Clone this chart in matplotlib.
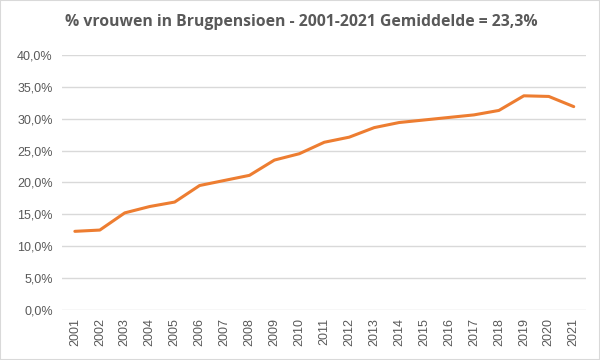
import matplotlib.pyplot as plt
from matplotlib.patches import Rectangle
from matplotlib.ticker import FuncFormatter

years = [str(y) for y in range(2001, 2022)]
pct_vrouwen = [12.3, 12.5, 15.2, 16.2, 16.9, 19.5, 20.3, 21.1, 23.5, 24.5, 26.3,
               27.1, 28.6, 29.4, 29.8, 30.2, 30.6, 31.3, 33.6, 33.5, 31.9]
y_ticks = [0, 5, 10, 15, 20, 25, 30, 35, 40]
title = "% vrouwen in Brugpensioen - 2001-2021 Gemiddelde = 23,3%"

txt = "#595959"
fig = plt.figure(figsize=(6, 3.6), dpi=100)
ax = fig.add_axes([0.104, 0.140, 0.873, 0.707])

x = list(range(len(years)))
ax.plot(x, pct_vrouwen, color="#ED7D31", lw=2.2, solid_capstyle="round")

ax.set_xlim(-0.5, len(years) - 0.5)
ax.set_ylim(0, 40)
ax.set_yticks(y_ticks)
ax.yaxis.set_major_formatter(FuncFormatter(lambda v, p: f"{v:.1f}%".replace(".", ",")))
ax.set_xticks(x)
ax.set_xticklabels(years, rotation=90)
ax.grid(axis="y", color="#D9D9D9", lw=1)
ax.set_axisbelow(True)
for s in ax.spines.values():
    s.set_visible(False)
ax.tick_params(length=0, colors=txt, labelsize=9)
ax.tick_params(axis="y", pad=7)
ax.tick_params(axis="x", pad=6)
for lab in ax.get_xticklabels() + ax.get_yticklabels():
    lab.set_fontfamily("Liberation Sans")

fig.text(0.503, 0.938, title, ha="center", va="center", fontsize=11.3,
         fontweight="bold", color=txt, family="Open Sans")
fig.patches.append(Rectangle((0, 0), 1, 1, transform=fig.transFigure,
                             fill=False, edgecolor="#D9D9D9", lw=1.5))

fig.savefig("out.png", dpi=100)
